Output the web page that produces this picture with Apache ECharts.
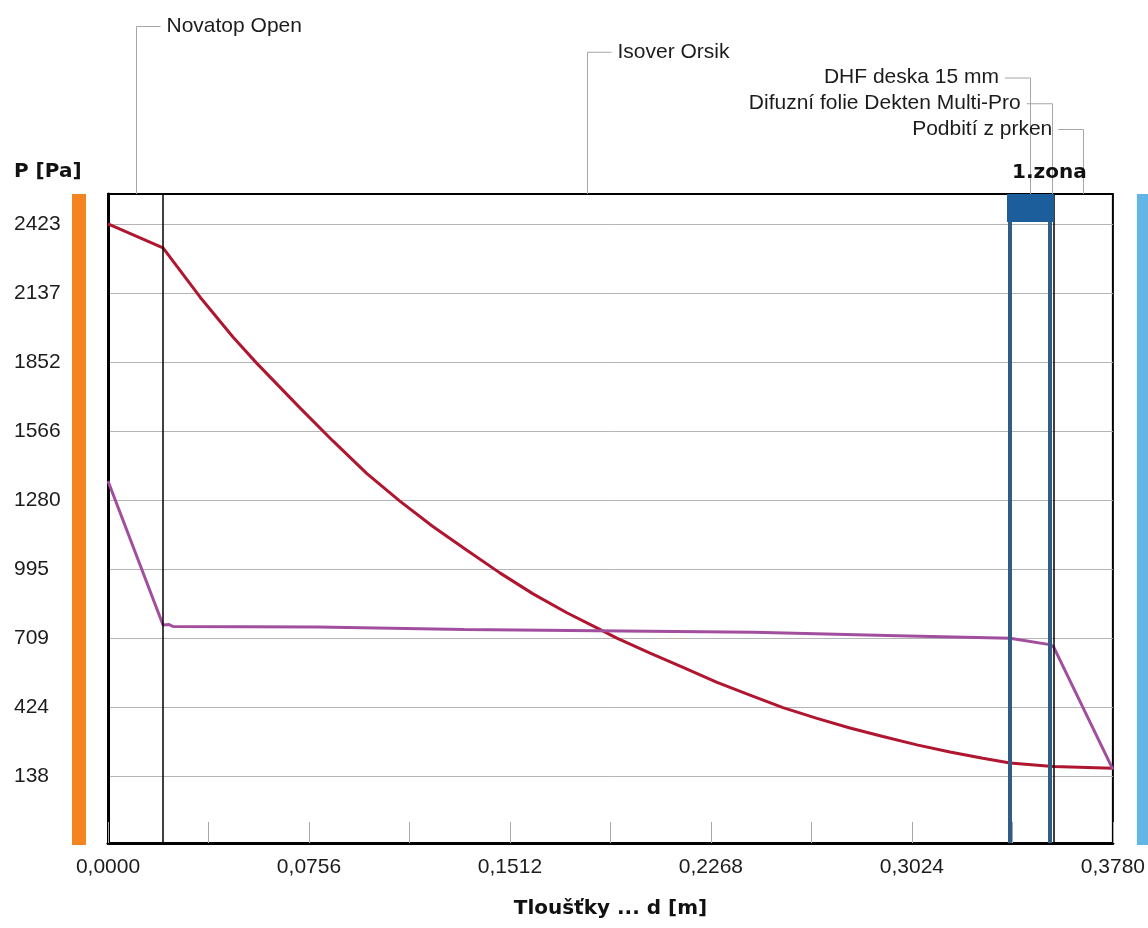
<!DOCTYPE html>
<html>
<head>
<meta charset="utf-8">
<script src="https://cdn.jsdelivr.net/npm/echarts@6/dist/echarts.min.js"></script>
<style>
  html, body { margin: 0; padding: 0; background: #fff; }
  #chart { width: 1148px; height: 928px; }
</style>
</head>
<body>
<div id="chart"></div>
<script>
// Wall layers (inside -> outside) and their boundaries [m]
const layerNames = ['Novatop Open', 'Isover Orsik', 'DHF deska 15 mm', 'Difuzní folie Dekten Multi-Pro', 'Podbití z prken'];
const layerBounds = [0, 0.0207, 0.3393, 0.3543, 0.3557, 0.378];
const labelSide = ['right', 'right', 'left', 'left', 'left'];

// Condensation zone
const zoneName = '1.zona';
const zoneRange = [0.3393, 0.3543];

// Axes
const xRange = [0, 0.378];
const xStep = 0.0378;
const yRange = [-139, 2547];
const yTickValues = [138, 424, 709, 995, 1280, 1566, 1852, 2137, 2423];
const xTitle = 'Tloušťky ... d [m]';
const yTitle = 'P [Pa]';

// Saturated water vapour pressure p_sat [Pa] over thickness d [m]
const satD = [0, 0.0207, 0.0346, 0.0470, 0.0560, 0.0722, 0.0846, 0.0974, 0.1098, 0.1222, 0.1350, 0.1474, 0.1599, 0.1726, 0.1839, 0.1914, 0.2039, 0.2163, 0.2291, 0.2415, 0.2539, 0.2667, 0.2791, 0.2915, 0.3043, 0.3167, 0.3291, 0.3393, 0.3543, 0.3557, 0.378];
const satP = [2423, 2324, 2121, 1955, 1846, 1662, 1525, 1390, 1276, 1171, 1073, 979, 892, 814, 751, 709, 647, 588, 526, 473, 421, 377, 337, 302, 267, 238, 212, 192, 179, 178, 170];

// Partial water vapour pressure p [Pa] over thickness d [m]
const vapD = [0, 0.0207, 0.0230, 0.0245, 0.0790, 0.1340, 0.2430, 0.2970, 0.3393, 0.3543, 0.3557, 0.378];
const vapP = [1359, 763, 765, 757, 755, 745, 733, 719, 708, 682, 673, 166];

const satData = satD.map((d, i) => [d, satP[i]]);
const vapData = vapD.map((d, i) => [d, vapP[i]]);

const FONT = 'Liberation Sans';
const BOLD = 'DejaVu Sans';
const TEXT = '#1c1c1c';

const chart = echarts.init(document.getElementById('chart'), null, { renderer: 'canvas' });

chart.setOption({
  animation: false,
  backgroundColor: '#ffffff',
  grid: {
    left: 108, right: 35, top: 194, bottom: 85,
    show: true, borderColor: '#000', borderWidth: 2, backgroundColor: 'transparent'
  },
  xAxis: {
    type: 'value',
    min: xRange[0], max: xRange[1], interval: xStep,
    axisLine: { onZero: false, lineStyle: { color: '#000', width: 3 } },
    axisTick: { inside: true, length: 21, lineStyle: { color: '#a8a8a8', width: 1 } },
    splitLine: { show: false },
    axisLabel: {
      margin: 14, fontFamily: FONT, fontSize: 21, color: TEXT,
      showMinLabel: true, showMaxLabel: true,
      formatter: (v, i) => (i % 2 === 0 ? v.toFixed(4).replace('.', ',') : '')
    },
    name: xTitle, nameLocation: 'middle', nameGap: 56,
    nameTextStyle: { fontFamily: BOLD, fontWeight: 'bold', fontSize: 20, color: '#111' }
  },
  yAxis: {
    type: 'value',
    min: yRange[0], max: yRange[1],
    axisLine: { onZero: false, lineStyle: { color: '#000', width: 3 } },
    axisTick: { show: false, customValues: yTickValues },
    splitLine: { show: true, lineStyle: { color: '#b4b4b4', width: 1 } },
    axisLabel: {
      customValues: yTickValues,
      margin: 94, align: 'left', fontFamily: FONT, fontSize: 21, color: TEXT,
      formatter: v => String(Math.round(v))
    }
  },
  series: [
    {
      name: 'boundaries', type: 'line', data: [], z: 2, silent: true,
      markLine: {
        symbol: 'none', silent: true, animation: false, precision: 6, label: { show: false },
        lineStyle: { color: '#000', width: 1.5, type: 'solid' },
        data: layerBounds.slice(1, -1).map(v => ({ xAxis: v }))
      }
    },
    {
      name: 'p_sat', type: 'line', data: satData, z: 3,
      showSymbol: false, smooth: false,
      lineStyle: { color: '#b0162f', width: 3 }
    },
    {
      name: 'p', type: 'line', data: vapData, z: 3,
      showSymbol: false, smooth: false,
      lineStyle: { color: '#a24e9e', width: 3 }
    },
    {
      name: 'zone', type: 'line', data: [], z: 5, silent: true,
      markLine: {
        symbol: 'none', silent: true, animation: false, precision: 6, label: { show: false },
        lineStyle: { color: '#2f5d86', width: 4, type: 'solid' },
        data: zoneRange.map(v => ({ xAxis: v }))
      }
    }
  ]
});

// Decorations placed from the grid's own coordinate system
function px(x, y) { return chart.convertToPixel({ gridIndex: 0 }, [x, y]); }

const [gx0, gyBottom] = px(xRange[0], yRange[0]);
const [gx1, gyTop] = px(xRange[1], yRange[1]);
const graphics = [];

// Interior (orange) and exterior (blue) environment bars
graphics.push({ type: 'rect', shape: { x: gx0 - 36, y: gyTop, width: 14, height: gyBottom - gyTop + 2 }, style: { fill: '#f4841f' }, z: 10 });
graphics.push({ type: 'rect', shape: { x: gx1 + 24, y: gyTop, width: 14, height: gyBottom - gyTop + 2 }, style: { fill: '#63b5e6' }, z: 10 });

// Condensation zone header
const zx0 = px(zoneRange[0], 0)[0] - 3;
const zx1 = px(zoneRange[1], 0)[0] + 4;
const zyBottom = px(0, yTickValues[yTickValues.length - 1])[1] - 2;
graphics.push({ type: 'rect', shape: { x: zx0, y: gyTop, width: zx1 - zx0, height: zyBottom - gyTop }, style: { fill: '#1c5e9c' }, z: 12 });
graphics.push({
  type: 'text', x: zx0 + 5, y: 173, z: 12,
  style: { text: zoneName, font: 'bold 20px "' + BOLD + '"', fill: '#111', verticalAlign: 'middle', align: 'left' }
});

// Y axis title
graphics.push({
  type: 'text', x: 14, y: 172, z: 12,
  style: { text: yTitle, font: 'bold 20px "' + BOLD + '"', fill: '#111', verticalAlign: 'middle', align: 'left' }
});

// Layer names with leader lines to the middle of each layer
layerNames.forEach((name, i) => {
  const mid = px((layerBounds[i] + layerBounds[i + 1]) / 2, 0)[0];
  const ly = 26 + 25.75 * i;
  const right = labelSide[i] === 'right';
  const hx = right ? mid + 25 : mid - 25;
  graphics.push({
    type: 'polyline', z: 11, silent: true,
    shape: { points: [[hx, ly + 0.5], [Math.round(mid) + 0.5, ly + 0.5], [Math.round(mid) + 0.5, gyTop]] },
    style: { stroke: '#a6a6a6', lineWidth: 1, fill: null }
  });
  graphics.push({
    type: 'text', z: 11,
    x: right ? mid + 31 : mid - 31, y: ly,
    style: { text: name, font: '21px "' + FONT + '"', fill: TEXT, verticalAlign: 'middle', align: right ? 'left' : 'right' }
  });
});

chart.setOption({ graphic: graphics });
</script>
</body>
</html>
